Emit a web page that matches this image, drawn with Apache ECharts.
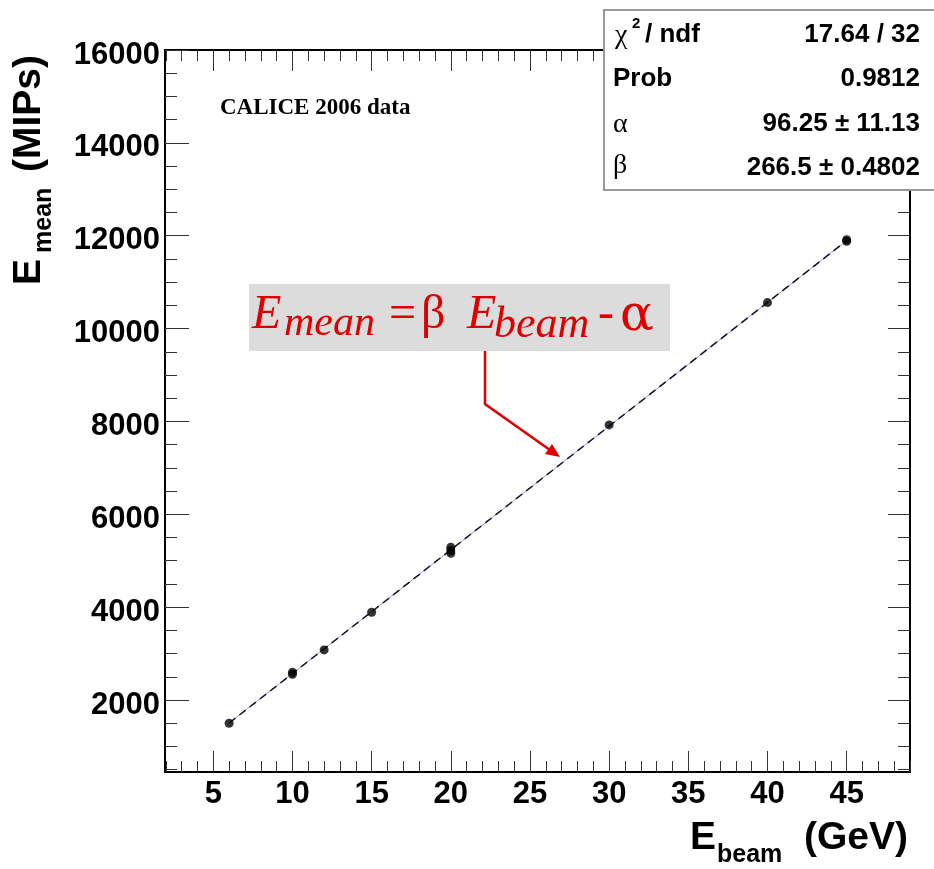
<!DOCTYPE html>
<html><head><meta charset="utf-8">
<script src="https://cdn.jsdelivr.net/npm/echarts@6/dist/echarts.min.js"></script>
<style>html,body{margin:0;padding:0;background:#fff}#c{width:934px;height:869px}</style>
</head><body><div id="c"></div>
<script>
// ---- data ----
const beamEnergy = [6, 10, 10, 12, 15, 20, 20, 20, 30, 40, 45, 45];
const meanEnergy = [1500, 2555, 2600, 3080, 3890, 5160, 5220, 5290, 7925, 10560, 11880, 11915];
const fitBeam = [6, 45];
const fitMean = [1505, 11895];
const xTickLabels = [5, 10, 15, 20, 25, 30, 35, 40, 45];
const yTickLabels = [2000, 4000, 6000, 8000, 10000, 12000, 14000, 16000];
const xMinorTicks = [2,3,4,5,6,7,8,9,10,11,12,13,14,15,16,17,18,19,20,21,22,23,24,25,26,27,28,29,30,31,32,33,34,35,36,37,38,39,40,41,42,43,44,45,46,47,48,49];
const yMinorTicks = [500,1000,1500,2000,2500,3000,3500,4000,4500,5000,5500,6000,6500,7000,7500,8000,8500,9000,9500,10000,10500,11000,11500,12000,12500,13000,13500,14000,14500,15000,15500,16000];
const statsValues = ['17.64 / 32', '0.9812', '96.25 \u00b1 11.13', '266.5 \u00b1 0.4802'];
const xRange = [1.95, 49];
const yRange = [450, 16000];

const SANS = '"Liberation Sans", Arial, Helvetica, sans-serif';
const SERIF = '"Liberation Serif", "Times New Roman", serif';
const tickColor = '#333';

function xAx(pos, values, len, labels) {
  return {
    type: 'value', position: pos, min: xRange[0], max: xRange[1],
    axisLine: { show: false },
    splitLine: { show: false },
    axisTick: { show: true, inside: true, length: len, customValues: values, lineStyle: { color: tickColor, width: 1 } },
    axisLabel: labels ? { show: true, customValues: xTickLabels, margin: 7, color: '#000',
      fontFamily: SANS, fontWeight: 'bold', fontSize: 31, formatter: v => String(v) } : { show: false }
  };
}
function yAx(pos, values, len, labels) {
  return {
    type: 'value', position: pos, min: yRange[0], max: yRange[1],
    axisLine: { show: false },
    splitLine: { show: false },
    axisTick: { show: true, inside: true, length: len, customValues: values, lineStyle: { color: tickColor, width: 1 } },
    axisLabel: labels ? { show: true, customValues: yTickLabels, margin: 5, color: '#000',
      fontFamily: SANS, fontWeight: 'bold', fontSize: 31, verticalAlign: 'top', lineHeight: 10,
      formatter: v => String(v) } : { show: false }
  };
}

const chart = echarts.init(document.getElementById('c'), null, { renderer: 'canvas' });

function txt(x, y, text, font, opts) {
  opts = opts || {};
  return {
    type: 'text', x: x, y: y, rotation: opts.rotation || 0, z: opts.z || 110,
    style: { text: text, font: font, fill: opts.fill || '#000',
      align: opts.align || 'left', verticalAlign: opts.va || 'middle' }
  };
}

const red = '#dd0000';
const graphics = [
  // y-axis title (rotated)
  txt(29, 285, 'E', 'bold 39px ' + SANS, { rotation: Math.PI / 2 }),
  txt(44, 253, 'mean', 'bold 25px ' + SANS, { rotation: Math.PI / 2 }),
  txt(29, 172, '(MIPs)', 'bold 39px ' + SANS, { rotation: Math.PI / 2 }),
  // x-axis title
  txt(690, 838, 'E', 'bold 39px ' + SANS),
  txt(717, 855, 'beam', 'bold 25px ' + SANS),
  txt(908, 838, '(GeV)', 'bold 39px ' + SANS, { align: 'right' }),
  // CALICE label
  txt(220, 108, 'CALICE 2006 data', 'bold 23px ' + SERIF),
  // formula box
  { type: 'rect', z: 105, shape: { x: 249, y: 284, width: 421, height: 67 }, style: { fill: '#dcdcdc' } },
  txt(252, 315, 'E', 'italic 48px ' + SERIF, { fill: red }),
  txt(284, 324, 'mean', 'italic 42px ' + SERIF, { fill: red }),
  txt(389, 315, '=', '48px ' + SERIF, { fill: red }),
  txt(421, 315, '\u03b2', '48px ' + SERIF, { fill: red }),
  txt(467, 315, 'E', 'italic 48px ' + SERIF, { fill: red }),
  txt(494, 325, 'beam', 'italic 44px ' + SERIF, { fill: red }),
  txt(598, 315, '-', '48px ' + SERIF, { fill: red }),
  txt(620, 317, '\u03b1', '50px "DejaVu Serif", serif', { fill: red }),
  // arrow
  { type: 'polyline', z: 105, shape: { points: [[485, 351], [485, 404], [550, 450]] },
    style: { stroke: red, lineWidth: 2.5, fill: null } },
  { type: 'polygon', z: 105, shape: { points: [[560, 457], [545, 454], [552, 444]] },
    style: { fill: red } },
  // stats box
  { type: 'rect', z: 100, shape: { x: 604, y: 10, width: 345, height: 180 },
    style: { fill: '#fff', stroke: '#999', lineWidth: 2 } },
  txt(615, 36, '\u03c7', '28px ' + SERIF),
  txt(632, 24, '2', 'bold 15px ' + SANS),
  txt(645, 35, '/ ndf', 'bold 26px ' + SANS),
  txt(613, 79, 'Prob', 'bold 26px ' + SANS),
  txt(613, 125, '\u03b1', '28px ' + SERIF),
  txt(613, 166, '\u03b2', '28px ' + SERIF),
  txt(920, 35, statsValues[0], 'bold 26px ' + SANS, { align: 'right' }),
  txt(920, 79, statsValues[1], 'bold 26px ' + SANS, { align: 'right' }),
  txt(920, 124, statsValues[2], 'bold 26px ' + SANS, { align: 'right' }),
  txt(920, 168, statsValues[3], 'bold 26px ' + SANS, { align: 'right' })
];

const points = beamEnergy.map((x, i) => [x, meanEnergy[i]]);
const fitLine = fitBeam.map((x, i) => [x, fitMean[i]]);

chart.setOption({
  animation: false,
  backgroundColor: '#fff',
  grid: { left: 165, top: 50, width: 745, height: 722, show: true, borderColor: '#000', borderWidth: 2, backgroundColor: 'transparent' },
  xAxis: [
    xAx('bottom', xTickLabels, 21, true),
    xAx('bottom', xMinorTicks, 11, false),
    xAx('top', xTickLabels, 21, false),
    xAx('top', xMinorTicks, 11, false)
  ],
  yAxis: [
    yAx('left', yTickLabels, 24, true),
    yAx('left', yMinorTicks, 12, false),
    yAx('right', yTickLabels, 22, false),
    yAx('right', yMinorTicks, 12, false)
  ],
  series: [
    { type: 'line', data: fitLine, showSymbol: false, symbol: 'none', silent: true, z: 2,
      lineStyle: { color: '#9999ff', width: 1 } },
    { type: 'line', data: fitLine, showSymbol: false, symbol: 'none', silent: true, z: 3,
      lineStyle: { color: '#111122', width: 1.5, type: [8, 5] } },
    { type: 'scatter', data: points, symbol: 'circle', symbolSize: 9, z: 4,
      itemStyle: { color: '#000' } }
  ],
  graphic: graphics
});
</script>
</body></html>
